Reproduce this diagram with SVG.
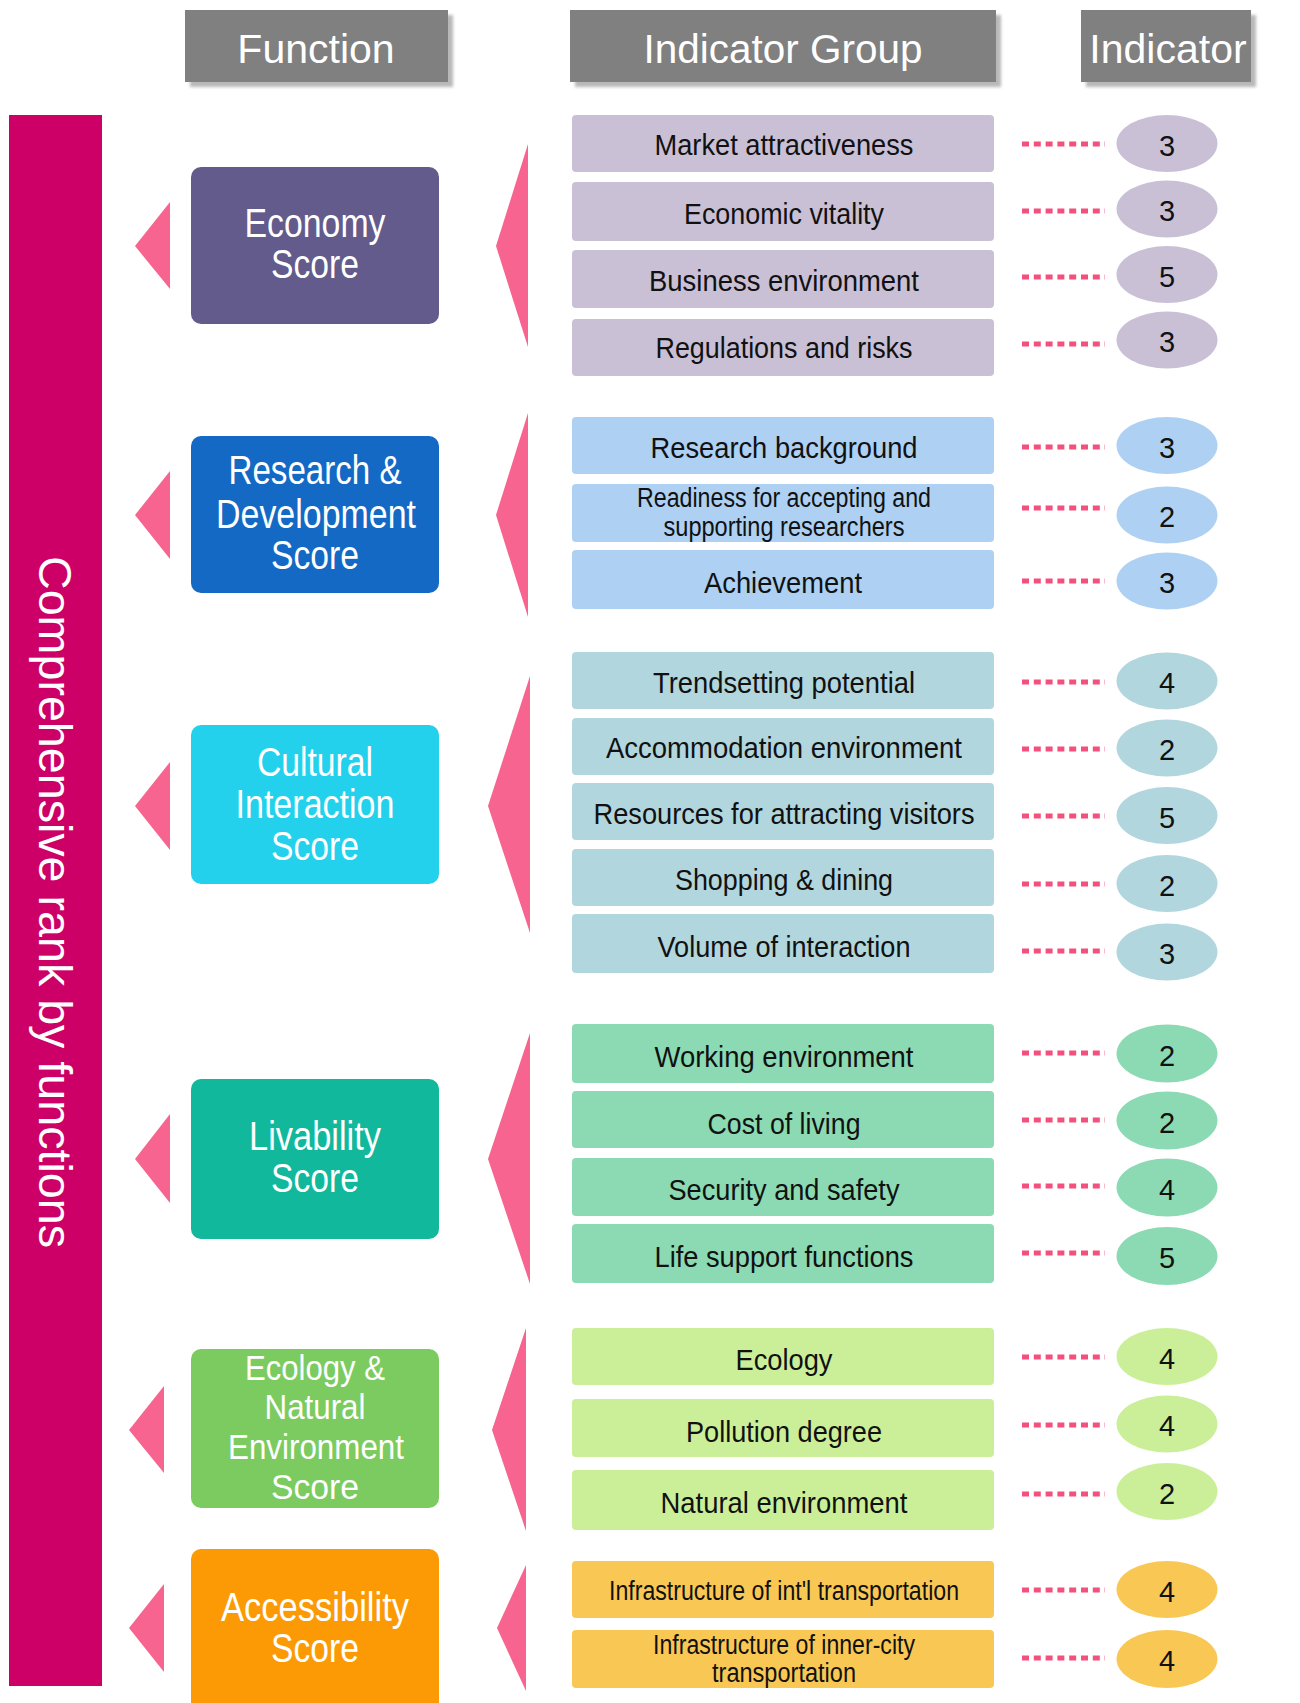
<svg xmlns="http://www.w3.org/2000/svg" width="1300" height="1703" viewBox="0 0 1300 1703">
<defs>
<filter id="sh" x="-10%" y="-20%" width="130%" height="160%">
<feGaussianBlur in="SourceAlpha" stdDeviation="1.5"/>
<feOffset dx="5" dy="5" result="o"/>
<feFlood flood-color="#b8b8b8"/>
<feComposite in2="o" operator="in"/>
<feMerge><feMergeNode/><feMergeNode in="SourceGraphic"/></feMerge>
</filter>
</defs>
<style>
text{font-family:"Liberation Sans",Arial,sans-serif}
.hdr rect{fill:#808080}
.hdr text{fill:#fff;font-size:41px;text-anchor:middle}
.fn text{fill:#fff;font-size:40px;text-anchor:middle}
#fn-ecology text{font-size:34.5px}
.grp text{fill:#111;font-size:30px;text-anchor:middle}
.grp text.sm{font-size:27px}
.ind text{fill:#111;font-size:29px;text-anchor:middle}
.dot{stroke:#f4507e;stroke-width:5;stroke-dasharray:7 4.8;fill:none}
.tri{fill:#f7648f}
.eco{fill:#c9c0d6}.rd{fill:#add0f3}.cul{fill:#b2d6dd}.liv{fill:#8bdab3}.ecl{fill:#cbef98}.acc{fill:#f9c854}
</style>
<rect width="1300" height="1703" fill="#fff"/>

<g id="header-function" class="hdr"><rect x="185" y="10" width="263" height="72" filter="url(#sh)"/><text x="316" y="63">Function</text></g>
<g id="header-indicator-group" class="hdr"><rect x="570" y="10" width="426" height="72" filter="url(#sh)"/><text x="783" y="63" textLength="279" lengthAdjust="spacingAndGlyphs">Indicator Group</text></g>
<g id="header-indicator" class="hdr"><rect x="1081" y="10" width="170" height="72" filter="url(#sh)"/><text x="1168" y="63">Indicator</text></g>

<g id="comprehensive-rank">
<rect x="9" y="115" width="93" height="1571" fill="#cc0066"/>
<text transform="translate(39,556) rotate(90)" x="0" y="0" fill="#fff" font-size="46" textLength="692" lengthAdjust="spacingAndGlyphs">Comprehensive rank  by functions</text>
</g>

<g id="connectors">
<polygon class="tri" points="135,246 170,202 170,289"/>
<polygon class="tri" points="496,246 528,144 528,347"/>
<polygon class="tri" points="135,515 170,471 170,559"/>
<polygon class="tri" points="496,515 528,413 528,617"/>
<polygon class="tri" points="135,806 170,762 170,850"/>
<polygon class="tri" points="488,806 530,676 530,933"/>
<polygon class="tri" points="135,1159 170,1114 170,1203"/>
<polygon class="tri" points="488,1159 530,1033 530,1284"/>
<polygon class="tri" points="129,1430 164,1386 164,1473"/>
<polygon class="tri" points="492,1430 526,1328 526,1531"/>
<polygon class="tri" points="129,1628 164,1584 164,1672"/>
<polygon class="tri" points="497,1628 526,1565 526,1691"/>
<g class="dot-lines">
<line class="dot" x1="1022" y1="144" x2="1105" y2="144"/>
<line class="dot" x1="1022" y1="211" x2="1105" y2="211"/>
<line class="dot" x1="1022" y1="277" x2="1105" y2="277"/>
<line class="dot" x1="1022" y1="344" x2="1105" y2="344"/>
<line class="dot" x1="1022" y1="447" x2="1105" y2="447"/>
<line class="dot" x1="1022" y1="508" x2="1105" y2="508"/>
<line class="dot" x1="1022" y1="581" x2="1105" y2="581"/>
<line class="dot" x1="1022" y1="682" x2="1105" y2="682"/>
<line class="dot" x1="1022" y1="749" x2="1105" y2="749"/>
<line class="dot" x1="1022" y1="816" x2="1105" y2="816"/>
<line class="dot" x1="1022" y1="884" x2="1105" y2="884"/>
<line class="dot" x1="1022" y1="951" x2="1105" y2="951"/>
<line class="dot" x1="1022" y1="1053" x2="1105" y2="1053"/>
<line class="dot" x1="1022" y1="1120" x2="1105" y2="1120"/>
<line class="dot" x1="1022" y1="1186" x2="1105" y2="1186"/>
<line class="dot" x1="1022" y1="1253" x2="1105" y2="1253"/>
<line class="dot" x1="1022" y1="1357" x2="1105" y2="1357"/>
<line class="dot" x1="1022" y1="1425" x2="1105" y2="1425"/>
<line class="dot" x1="1022" y1="1494" x2="1105" y2="1494"/>
<line class="dot" x1="1022" y1="1590" x2="1105" y2="1590"/>
<line class="dot" x1="1022" y1="1658" x2="1105" y2="1658"/>
</g>
</g>

<g id="fn-economy" class="fn"><rect x="191" y="167" width="248" height="157" rx="10" fill="#625b8b"/>
<text x="315" y="237" textLength="141" lengthAdjust="spacingAndGlyphs">Economy</text>
<text x="315" y="278" textLength="88" lengthAdjust="spacingAndGlyphs">Score</text></g>
<g id="fn-rd" class="fn"><rect x="191" y="436" width="248" height="157" rx="10" fill="#1369c4"/>
<text x="315" y="484" textLength="173" lengthAdjust="spacingAndGlyphs">Research &amp;</text>
<text x="316" y="528" textLength="200" lengthAdjust="spacingAndGlyphs">Development</text>
<text x="315" y="569" textLength="88" lengthAdjust="spacingAndGlyphs">Score</text></g>
<g id="fn-cultural" class="fn"><rect x="191" y="725" width="248" height="159" rx="10" fill="#24d1ed"/>
<text x="315" y="776" textLength="116" lengthAdjust="spacingAndGlyphs">Cultural</text>
<text x="315" y="818" textLength="159" lengthAdjust="spacingAndGlyphs">Interaction</text>
<text x="315" y="860" textLength="88" lengthAdjust="spacingAndGlyphs">Score</text></g>
<g id="fn-livability" class="fn"><rect x="191" y="1079" width="248" height="160" rx="10" fill="#12b89c"/>
<text x="315" y="1150" textLength="132" lengthAdjust="spacingAndGlyphs">Livability</text>
<text x="315" y="1192" textLength="88" lengthAdjust="spacingAndGlyphs">Score</text></g>
<g id="fn-ecology" class="fn"><rect x="191" y="1349" width="248" height="159" rx="10" fill="#7ccb60"/>
<text x="315" y="1380" textLength="140" lengthAdjust="spacingAndGlyphs">Ecology &amp;</text>
<text x="315" y="1419" textLength="101" lengthAdjust="spacingAndGlyphs">Natural</text>
<text x="316" y="1459" textLength="176" lengthAdjust="spacingAndGlyphs">Environment</text>
<text x="315" y="1499" textLength="88" lengthAdjust="spacingAndGlyphs">Score</text></g>
<g id="fn-accessibility" class="fn"><rect x="191" y="1549" width="248" height="170" rx="10" fill="#fb9a04"/>
<text x="315" y="1621" textLength="188" lengthAdjust="spacingAndGlyphs">Accessibility</text>
<text x="315" y="1662" textLength="88" lengthAdjust="spacingAndGlyphs">Score</text></g>

<g id="groups-economy" class="grp">
<g id="g-market"><rect class="eco" x="572" y="115" width="422" height="57" rx="4"/><text x="784" y="155" textLength="259" lengthAdjust="spacingAndGlyphs">Market attractiveness</text></g>
<g id="g-vitality"><rect class="eco" x="572" y="182" width="422" height="59" rx="4"/><text x="784" y="224" textLength="200" lengthAdjust="spacingAndGlyphs">Economic vitality</text></g>
<g id="g-business"><rect class="eco" x="572" y="250" width="422" height="58" rx="4"/><text x="784" y="291" textLength="270" lengthAdjust="spacingAndGlyphs">Business environment</text></g>
<g id="g-regulations"><rect class="eco" x="572" y="319" width="422" height="57" rx="4"/><text x="784" y="358" textLength="257" lengthAdjust="spacingAndGlyphs">Regulations and risks</text></g>
</g>
<g id="groups-rd" class="grp">
<g id="g-research"><rect class="rd" x="572" y="417" width="422" height="57" rx="4"/><text x="784" y="458" textLength="267" lengthAdjust="spacingAndGlyphs">Research background</text></g>
<g id="g-readiness"><rect class="rd" x="572" y="484" width="422" height="58" rx="4"/><text class="sm" x="784" y="507" textLength="294" lengthAdjust="spacingAndGlyphs">Readiness for accepting and</text><text class="sm" x="784" y="536" textLength="241" lengthAdjust="spacingAndGlyphs">supporting researchers</text></g>
<g id="g-achievement"><rect class="rd" x="572" y="550" width="422" height="59" rx="4"/><text x="783" y="593" textLength="158" lengthAdjust="spacingAndGlyphs">Achievement</text></g>
</g>
<g id="groups-cultural" class="grp">
<g id="g-trend"><rect class="cul" x="572" y="652" width="422" height="57" rx="4"/><text x="784" y="693" textLength="262" lengthAdjust="spacingAndGlyphs">Trendsetting potential</text></g>
<g id="g-accommodation"><rect class="cul" x="572" y="718" width="422" height="57" rx="4"/><text x="784" y="758" textLength="356" lengthAdjust="spacingAndGlyphs">Accommodation environment</text></g>
<g id="g-resources"><rect class="cul" x="572" y="783" width="422" height="57" rx="4"/><text x="784" y="824" textLength="381" lengthAdjust="spacingAndGlyphs">Resources for attracting visitors</text></g>
<g id="g-shopping"><rect class="cul" x="572" y="849" width="422" height="57" rx="4"/><text x="784" y="890" textLength="218" lengthAdjust="spacingAndGlyphs">Shopping &amp; dining</text></g>
<g id="g-volume"><rect class="cul" x="572" y="914" width="422" height="59" rx="4"/><text x="784" y="957" textLength="253" lengthAdjust="spacingAndGlyphs">Volume of interaction</text></g>
</g>
<g id="groups-livability" class="grp">
<g id="g-working"><rect class="liv" x="572" y="1024" width="422" height="59" rx="4"/><text x="784" y="1067" textLength="259" lengthAdjust="spacingAndGlyphs">Working environment</text></g>
<g id="g-cost"><rect class="liv" x="572" y="1091" width="422" height="57" rx="4"/><text x="784" y="1134" textLength="153" lengthAdjust="spacingAndGlyphs">Cost of living</text></g>
<g id="g-security"><rect class="liv" x="572" y="1158" width="422" height="58" rx="4"/><text x="784" y="1200" textLength="231" lengthAdjust="spacingAndGlyphs">Security and safety</text></g>
<g id="g-life"><rect class="liv" x="572" y="1224" width="422" height="59" rx="4"/><text x="784" y="1267" textLength="259" lengthAdjust="spacingAndGlyphs">Life support functions</text></g>
</g>
<g id="groups-ecology" class="grp">
<g id="g-ecology"><rect class="ecl" x="572" y="1328" width="422" height="57" rx="4"/><text x="784" y="1370" textLength="97" lengthAdjust="spacingAndGlyphs">Ecology</text></g>
<g id="g-pollution"><rect class="ecl" x="572" y="1399" width="422" height="58" rx="4"/><text x="784" y="1442" textLength="196" lengthAdjust="spacingAndGlyphs">Pollution degree</text></g>
<g id="g-natural"><rect class="ecl" x="572" y="1470" width="422" height="60" rx="4"/><text x="784" y="1513" textLength="247" lengthAdjust="spacingAndGlyphs">Natural environment</text></g>
</g>
<g id="groups-accessibility" class="grp">
<g id="g-intl"><rect class="acc" x="572" y="1561" width="422" height="57" rx="4"/><text class="sm" x="784" y="1600" textLength="350" lengthAdjust="spacingAndGlyphs">Infrastructure of int'l transportation</text></g>
<g id="g-inner"><rect class="acc" x="572" y="1630" width="422" height="58" rx="4"/><text class="sm" x="784" y="1654" textLength="262" lengthAdjust="spacingAndGlyphs">Infrastructure of inner-city</text><text class="sm" x="784" y="1682" textLength="144" lengthAdjust="spacingAndGlyphs">transportation</text></g>
</g>

<g id="indicators" class="ind">
<g id="i1"><ellipse class="eco" cx="1167" cy="143.5" rx="50.5" ry="28.5"/><text x="1167" y="156">3</text></g>
<g id="i2"><ellipse class="eco" cx="1167" cy="209" rx="50.5" ry="28.5"/><text x="1167" y="221">3</text></g>
<g id="i3"><ellipse class="eco" cx="1167" cy="274.5" rx="50.5" ry="28.5"/><text x="1167" y="287">5</text></g>
<g id="i4"><ellipse class="eco" cx="1167" cy="340" rx="50.5" ry="28.5"/><text x="1167" y="352">3</text></g>
<g id="i5"><ellipse class="rd" cx="1167" cy="445.5" rx="50.5" ry="28.5"/><text x="1167" y="458">3</text></g>
<g id="i6"><ellipse class="rd" cx="1167" cy="515" rx="50.5" ry="28.5"/><text x="1167" y="527">2</text></g>
<g id="i7"><ellipse class="rd" cx="1167" cy="581" rx="50.5" ry="28.5"/><text x="1167" y="593">3</text></g>
<g id="i8"><ellipse class="cul" cx="1167" cy="681" rx="50.5" ry="28.5"/><text x="1167" y="693">4</text></g>
<g id="i9"><ellipse class="cul" cx="1167" cy="748" rx="50.5" ry="28.5"/><text x="1167" y="760">2</text></g>
<g id="i10"><ellipse class="cul" cx="1167" cy="815.5" rx="50.5" ry="28.5"/><text x="1167" y="828">5</text></g>
<g id="i11"><ellipse class="cul" cx="1167" cy="883.5" rx="50.5" ry="28.5"/><text x="1167" y="896">2</text></g>
<g id="i12"><ellipse class="cul" cx="1167" cy="952" rx="50.5" ry="28.5"/><text x="1167" y="964">3</text></g>
<g id="i13"><ellipse class="liv" cx="1167" cy="1053.5" rx="50.5" ry="29"/><text x="1167" y="1066">2</text></g>
<g id="i14"><ellipse class="liv" cx="1167" cy="1120.5" rx="50.5" ry="29"/><text x="1167" y="1133">2</text></g>
<g id="i15"><ellipse class="liv" cx="1167" cy="1187.5" rx="50.5" ry="29"/><text x="1167" y="1200">4</text></g>
<g id="i16"><ellipse class="liv" cx="1167" cy="1256" rx="50.5" ry="29"/><text x="1167" y="1268">5</text></g>
<g id="i17"><ellipse class="ecl" cx="1167" cy="1356.5" rx="50.5" ry="28.5"/><text x="1167" y="1369">4</text></g>
<g id="i18"><ellipse class="ecl" cx="1167" cy="1424" rx="50.5" ry="28.5"/><text x="1167" y="1436">4</text></g>
<g id="i19"><ellipse class="ecl" cx="1167" cy="1491.5" rx="50.5" ry="28.5"/><text x="1167" y="1504">2</text></g>
<g id="i20"><ellipse class="acc" cx="1167" cy="1589.5" rx="50.5" ry="28.5"/><text x="1167" y="1602">4</text></g>
<g id="i21"><ellipse class="acc" cx="1167" cy="1659" rx="50.5" ry="29"/><text x="1167" y="1671">4</text></g>
</g>
</svg>
